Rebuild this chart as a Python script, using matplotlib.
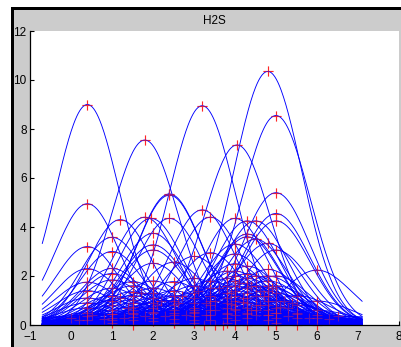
import numpy as np
import matplotlib
matplotlib.use("Agg")
import matplotlib.pyplot as plt
from matplotlib.patches import Rectangle

title = "H2S"
x_start, x_end = -0.7, 7.1
x_ticks = [-1, 0, 1, 2, 3, 4, 5, 6, 7, 8]
y_ticks = [0, 2, 4, 6, 8, 10, 12]

# peak positions, peak heights, widths (sigma) of each curve
centers = [
    0.4, 0.4, 0.4, 0.4, 0.4, 0.4, 0.4, 0.4, 0.4, 0.4, 0.4, 0.4,
    1.0, 1.0, 1.0, 1.0, 1.0, 1.0, 1.0, 1.0, 1.0, 1.0, 1.0, 1.0, 1.0, 1.0,
    1.2,
    1.5, 1.5, 1.5, 1.5, 1.5, 1.5, 1.5, 1.5, 1.5, 1.5, 1.5, 1.5,
    1.8, 1.8, 1.95,
    2.0, 2.0, 2.0, 2.0, 2.0, 2.0, 2.0, 2.0, 2.0, 2.0, 2.0, 2.0, 2.0,
    2.4, 2.4, 2.4,
    2.5, 2.5, 2.5, 2.5, 2.5, 2.5, 2.5, 2.5, 2.5, 2.5,
    3.0, 3.0, 3.0, 3.0, 3.0, 3.0, 3.0, 3.0, 3.0, 3.0, 3.0,
    3.2, 3.2, 3.25,
    3.4, 3.4, 3.4, 3.4, 3.4, 3.4, 3.4, 3.4, 3.4, 3.4, 3.5,
    3.8, 3.8, 3.8, 3.8, 3.8, 3.8, 3.8, 3.8, 3.8, 3.8, 3.7,
    4.05, 4.0, 4.0, 4.0, 4.0, 4.0, 4.0, 4.0, 4.0, 4.0, 4.0, 4.0, 4.0, 4.0, 4.0, 4.0, 4.0,
    4.3, 4.3, 4.3, 4.3, 4.3, 4.3, 4.3, 4.3, 4.3, 4.3, 4.3, 4.3, 4.3, 4.3, 4.3,
    4.5, 4.5, 4.5, 4.5, 4.5, 4.5, 4.5,
    4.8, 4.8, 4.8, 4.8, 4.8, 4.8, 4.8, 4.8, 4.8, 4.8, 4.8, 4.8, 4.8, 4.8,
    5.0, 5.0, 5.0, 5.0, 5.0, 5.0, 5.0, 5.0, 5.0, 5.0, 5.0, 5.0, 5.0, 5.0,
    5.5, 5.5, 5.5, 5.5, 5.5,
    6.0, 6.0, 6.0, 6.0, 6.0,
    1.2, 1.7, 2.2, 2.7, 3.1, 3.3, 3.6, 3.9, 4.1, 4.2, 4.4, 4.6, 4.7, 4.9,
    5.2, 5.4, 1.4, 2.1, 2.6, 3.5, 3.9, 4.2, 4.6, 5.1, 5.3, 3.0, 4.4,
    0.0, 0.5, 1.0, 1.5, 2.0, 2.5, 3.0, 3.5, 4.0, 4.5, 5.0, 5.5, 6.0, 6.5,
    0.2, 0.8, 1.3, 1.8, 2.3, 2.8, 3.3, 3.8, 4.3, 4.8, 5.3, 5.8, 6.3,
]
heights = [
    9.0, 4.95, 3.2, 2.3, 1.75, 1.4, 1.1, 0.9, 0.7, 0.5, 0.35, 0.2,
    3.58, 3.0, 2.31, 2.1, 1.84, 1.5, 1.2, 1.0, 0.8, 0.6, 0.45, 0.3, 0.2, 0.1,
    4.3,
    1.77, 1.6, 1.36, 1.2, 1.02, 0.9, 0.75, 0.6, 0.45, 0.34, 0.2, 0.0,
    7.55, 4.4, 4.35,
    3.74, 3.27, 3.06, 2.52, 1.8, 1.5, 1.3, 1.1, 0.9, 0.7, 0.5, 0.3, 0.15,
    5.3, 5.35, 4.35,
    2.56, 1.77, 1.4, 1.2, 1.0, 0.8, 0.6, 0.4, 0.25, 0.1,
    2.8, 1.9, 1.6, 1.3, 1.1, 0.9, 0.7, 0.5, 0.35, 0.2, 0.1,
    8.95, 4.7, 0.0,
    4.4, 2.95, 1.8, 1.5, 1.2, 1.0, 0.8, 0.6, 0.4, 0.2, 0.0,
    2.2, 1.9, 1.6, 1.3, 1.1, 0.9, 0.7, 0.5, 0.3, 0.1, 0.0,
    7.35, 4.35, 3.3, 2.9, 2.5, 2.2, 2.0, 1.8, 1.6, 1.4, 1.2, 1.0, 0.8, 0.6, 0.4, 0.2, 0.0,
    4.25, 3.71, 3.6, 2.4, 2.1, 1.9, 1.7, 1.5, 1.3, 1.1, 0.9, 0.7, 0.5, 0.3, 0.0,
    4.25, 3.5, 2.0, 1.6, 1.2, 0.8, 0.4,
    10.35, 3.33, 2.27, 2.0, 1.8, 1.6, 1.4, 1.2, 1.0, 0.8, 0.6, 0.4, 0.2, 0.0,
    8.55, 5.4, 4.55, 4.25, 3.06, 2.0, 1.6, 1.3, 1.0, 0.7, 0.5, 0.3, 0.1, 0.0,
    1.2, 0.8, 0.5, 0.3, 0.0,
    2.24, 0.98, 0.6, 0.3, 0.0,
    1.1, 1.3, 1.0, 1.2, 1.4, 0.9, 1.5, 1.3, 1.7, 1.1, 1.6, 1.4, 1.2, 1.5,
    1.0, 0.9, 0.7, 0.8, 0.9, 1.0, 0.85, 0.95, 0.8, 0.75, 0.7, 0.55, 0.6,
    0.3, 0.4, 0.45, 0.5, 0.55, 0.5, 0.6, 0.6, 0.65, 0.6, 0.5, 0.45, 0.4, 0.35,
    0.2, 0.25, 0.3, 0.35, 0.35, 0.4, 0.4, 0.45, 0.45, 0.4, 0.35, 0.3, 0.25,
]
widths = (
    [0.78] * 12 + [0.78] * 14 + [0.78] + [0.8] * 12 + [0.8] * 3 + [0.8] * 13
    + [0.8] * 3 + [0.8] * 10 + [0.8] * 11 + [0.8] * 3 + [0.8] * 11 + [0.8] * 11
    + [0.8] * 17 + [0.8] * 15 + [0.8] * 7 + [0.83] * 14 + [0.83] * 14
    + [0.85] * 5 + [0.85] * 5 + [0.8] * 27 + [1.6] * 14 + [1.8] * 13
)

W, H = 401, 347
fig = plt.figure(figsize=(W / 100, H / 100), dpi=100, facecolor="white")
# MATLAB-like gray window with black border on top/left
fig.patches.append(Rectangle((11 / W, 0), 1, (H - 7) / H, transform=fig.transFigure,
                             facecolor="black", edgecolor="none", zorder=-3))
fig.patches.append(Rectangle((14 / W, 0), 1, (H - 10) / H, transform=fig.transFigure,
                             facecolor="#cccccc", edgecolor="none", zorder=-2))

ax = fig.add_axes([30 / W, (H - 325) / H, 369 / W, 294 / H])
ax.set_facecolor("white")

xs = np.linspace(x_start, x_end, 400)
# peak markers underneath, curves on top, faint marker overlay
ax.plot(centers, heights, linestyle="none", marker="+", color="#ff2020", ms=6.5,
        mew=0.8, clip_on=False, zorder=1)
for c, h, s in zip(centers, heights, widths):
    ax.plot(xs, h * np.exp(-(xs - c) ** 2 / (2 * s * s)), color="#0000ff",
            lw=0.65, zorder=2)
ax.plot(centers, heights, linestyle="none", marker="+", color="#ff3030", ms=6.5,
        mew=0.8, clip_on=False, zorder=3, alpha=0.4)

ax.set_xlim(-1, 8)
ax.set_ylim(0, 12)
ax.set_xticks(x_ticks)
ax.set_yticks(y_ticks)
ax.spines["top"].set_visible(False)
ax.spines["right"].set_visible(False)
for sp in ("left", "bottom"):
    ax.spines[sp].set_linewidth(0.9)
    ax.spines[sp].set_zorder(10)
ax.tick_params(direction="in", length=3, width=0.8, labelsize=8.5)
ax.tick_params(axis="x", pad=4.5)
ax.tick_params(axis="y", pad=2.5)
for lab in ax.get_xticklabels() + ax.get_yticklabels():
    lab.set_fontfamily("Liberation Sans")
ax.set_title(title, fontsize=8.5, family="Liberation Sans", pad=5)

fig.savefig("out.png", dpi=100, facecolor=fig.get_facecolor())
